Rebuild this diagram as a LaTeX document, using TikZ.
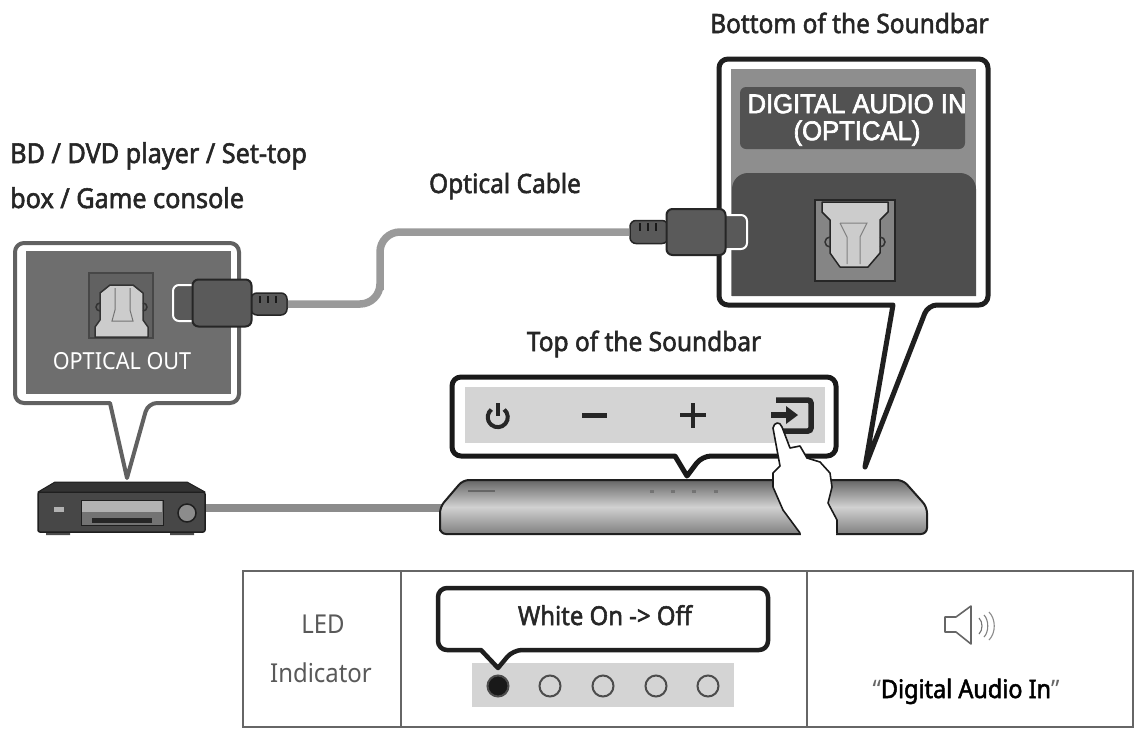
\documentclass[tikz,border=0pt]{standalone}
\usepackage{fontspec}
\setmainfont{Noto Sans}
\newfontfamily\lab[FakeBold=2,FakeStretch=0.92]{Noto Sans}
\newfontfamily\lite[FakeStretch=0.92]{Noto Sans}
\newfontfamily\arl[FakeBold=2.5,FakeStretch=0.95]{Liberation Sans}
\usetikzlibrary{calc}
\definecolor{capt}{HTML}{262626}
\definecolor{panelA}{HTML}{6E6E6E}
\definecolor{panelB}{HTML}{8E8E8E}
\definecolor{panelC}{HTML}{4E4E4E}
\definecolor{plugc}{HTML}{5A5A5A}
\definecolor{cable}{HTML}{9A9A9A}
\definecolor{lightp}{HTML}{D4D4D4}
\tikzset{
 caption/.style={font=\lab\fontsize{26.6}{26.6}\selectfont,text=capt,inner sep=0pt,anchor=base west},
 capc/.style={caption,anchor=base},
 thin text/.style={font=\lite\fontsize{26}{26}\selectfont,text=black!65,inner sep=0pt,anchor=base},
 cableline/.style={draw=cable,line width=7.5pt},
 callout/.style={fill=white,line width=5pt,line join=round,rounded corners=9pt},
 plugbody/.style={draw=black!85,line width=2pt,fill=plugc,rounded corners=6pt,inner sep=0pt,minimum width=#1},
 plugneck/.style={draw=white,line width=2pt,fill=black!65,rounded corners=6pt,inner sep=0pt},
 relief/.style={draw=black!85,line width=1.5pt,fill=black!65,rounded corners=6pt,inner sep=0pt},
 icon/.style={line width=4pt,draw=black!85},
 led/.style={circle,draw=black!70,line width=2pt,fill=lightp,minimum size=21pt,inner sep=0pt},
}
\begin{document}
\begin{tikzpicture}[x=1pt,y=-1pt]
\useasboundingbox (0,0) rectangle (1140,729);
\fill[white] (0,0) rectangle (1140,729);

% captions
\node[caption] (capBottom) at (710,33) {Bottom of the Soundbar};
\node[caption,font=\lab\fontsize{27.4}{27.4}\selectfont] (capBD) at (10,163) {BD / DVD player / Set-top};
\node[caption,font=\lab\fontsize{27.4}{27.4}\selectfont] (capBox) at (10,208) {box / Game console};
\node[capc] (capOpt) at (505,193) {Optical Cable};
\node[capc] (capTop) at (644,351) {Top of the Soundbar};

% left callout
\draw[callout,draw=black!62,line width=4pt] (15,243) -- (239,243) -- (239,403) -- (148,403) [sharp corners] -- (127,478) -- (110,403) [rounded corners=9pt] -- (15,403) -- cycle;
\fill[panelA] (26,251) rectangle (231,394);
\draw[fill=black!62,draw=black!72,line width=1.5pt] (89,273) rectangle (153,338);
\draw[fill=black!20,draw=black!80,line width=1.5pt,line join=round] (95,337) -- (95,327) -- (100,320) -- (100,293) -- (110,285) -- (133,285) -- (143,293) -- (143,320) -- (148,327) -- (148,337) -- cycle;
\draw[black!55,line width=1pt] (115,288) -- (115,310) -- (112,321) -- (133,321) -- (130,310) -- (130,288);
\draw[black!80,line width=1.5pt] (100,303) arc[start angle=-90,end angle=-270,radius=4];
\draw[black!80,line width=1.5pt] (143,303) arc[start angle=-90,end angle=90,radius=4];
\node[inner sep=0pt,anchor=base,text=white,font=\lite\fontsize{23.5}{23.5}\selectfont] (optOut) at (122,369) {OPTICAL OUT};

% right callout
\draw[callout,draw=black!88] (719,59) -- (988,59) -- (988,305) -- (928,305) [sharp corners] -- (865,467) -- (893,305) [rounded corners=9pt] -- (719,305) -- cycle;
\fill[panelB] (731,69) rectangle (976,296);
\node[fill=black!68,rounded corners=6pt,minimum width=225pt,minimum height=62pt,inner sep=0pt] (dai) at (852.5,118) {};
\node[inner sep=0pt,align=center,text=white,font=\arl\fontsize{27}{27}\selectfont] (daiText) at (857,120) {DIGITAL AUDIO IN\\(OPTICAL)};
\fill[panelC,rounded corners=16pt] (732,296) -- (732,173) -- (976,173) [sharp corners] -- (976,296) -- cycle;
\draw[fill=black!48,draw=black!85,line width=1.5pt] (815,200) rectangle (895,281);
\draw[fill=black!20,draw=black!85,line width=1.5pt,line join=round] (822,202) -- (888,202) -- (888,212) -- (880,220) -- (880,253) -- (868,267) -- (840,267) -- (830,253) -- (830,220) -- (822,212) -- cycle;
\draw[black!50,line width=1pt] (840,223) -- (867,223) -- (860,237) -- (860,264) (840,223) -- (847,237) -- (847,264);
\draw[black!80,line width=1.5pt] (830,237) arc[start angle=-90,end angle=-270,radius=5];
\draw[black!80,line width=1.5pt] (880,237) arc[start angle=-90,end angle=90,radius=5];

% cable between plugs
\node[relief,minimum width=36pt,minimum height=22pt] (reliefL) at (269,304) {};
\node[relief,minimum width=38pt,minimum height=23pt] (reliefR) at (649,232) {};
\coordinate (cablebend) at (380,270);
\draw[cableline,rounded corners=20pt] (reliefL.east) -| (cablebend) |- (reliefR.west);
\foreach \x in {260,268,276}{\draw[black!90,line width=1.5pt] (\x,296) -- (\x,303);}
\foreach \x in {640,648,656}{\draw[black!90,line width=1.5pt] (\x,223) -- (\x,231);}

% plugs
\node[plugneck,minimum width=30pt,minimum height=36pt] (neckL) at (188,303) {};
\node[plugbody=59pt,minimum height=47pt] (bodyL) at (222,303) {};
\node[plugneck,minimum width=30pt,minimum height=34pt] (neckR) at (732,232) {};
\node[plugbody=59pt,minimum height=46pt] (bodyR) at (696,232) {};

% top callout
\draw[callout,draw=black!90] (452,377) -- (836,377) -- (836,456) -- (702,456) [sharp corners] -- (687,476) -- (675,456) [rounded corners=9pt] -- (452,456) -- cycle;
\fill[lightp] (465,387) rectangle (825,443);
\draw[icon] (504.2,409.5) arc[start angle=-50,end angle=230,radius=10];
\draw[icon] (497.5,403) -- (497.5,416);
\draw[icon,line width=5pt] (582,415) -- (607,415);
\draw[icon] (680,415) -- (706,415) (693,403) -- (693,428);
\draw[icon,line width=5.5pt,rounded corners=3pt] (776,400) -- (811,400) -- (811,431) -- (776,431);
\draw[icon,line width=6pt] (771,415) -- (788,415);
\fill[black!85] (786,406) -- (798,415) -- (786,424) -- cycle;

% player
\coordinate (barL) at (445,508);
\fill[black!70] (46,530) rectangle (70,535) (170,530) rectangle (194,535);
\node[fill=black!72,draw=black!88,line width=1.5pt,rounded corners=2pt,minimum width=167pt,minimum height=40pt,inner sep=0pt] (player) at (121.5,512) {};
\draw[cableline,line width=8pt,draw=black!45] (barL -| player.east) -- (barL);
\draw[fill=black!80,draw=black!88,line width=1pt,line join=round] (38,492) -- (55,482) -- (187,482) -- (205,492) -- cycle;
\draw[draw=black!88,fill=black!55,line width=1pt] (81,500) rectangle (163,525);
\fill[black!30] (82,501) rectangle (162,512);
\fill[black!85] (92,518) rectangle (152,523);
\fill[black!30] (54,507) rectangle (64,512);
\draw[draw=black!88,fill=black!45,line width=1.5pt] (187,513) circle (9);

% soundbar
\draw[draw=black!88,line width=2pt,top color=black!60,bottom color=black!50,middle color=black!18,rounded corners=6pt] (440,525) -- (440,507) -- (463,480) -- (903,480) -- (927,507) -- (927,534) -- (440,534) -- cycle;
\fill[black!60] (468,490) rectangle (495,492);
\foreach \x in {652,673,694,716}{\fill[black!55] (\x-2,490) rectangle (\x+2,492.5);}

% hand
\draw[fill=white,draw=black!90,line width=1.6pt,line join=round] (800,533) -- (783,510) -- (773,487) -- (773,473) -- (780,466) -- (773,428) .. controls (774,422) and (780,421) .. (782,427) -- (790,448) -- (800,446) -- (807,458) -- (820,462) -- (830,473) -- (832,487) -- (828,503) -- (837,520) -- (837,533);
\fill[white] (801,530) rectangle (836,536);

% table
\draw[black!60,line width=1.6pt] (243,571) rectangle (1133,727);
\draw[black!60,line width=1.6pt] (401,571) -- (401,727) (807,571) -- (807,727);
\node[thin text] (ledA) at (323,633) {LED};
\node[thin text] (ledB) at (321,682) {Indicator};
\fill[lightp] (472,663) rectangle (734,707);
\draw[callout,draw=black!88,line width=4.5pt] (438,588) -- (768,588) -- (768,650) -- (513,650) [sharp corners] -- (498,668) -- (481,650) [rounded corners=9pt] -- (438,650) -- cycle;
\node[capc,font=\lab\fontsize{26}{26}\selectfont] (white) at (605,625) {White On -> Off};
\node[led,fill=black!90] (led1) at (498,686) {};
\node[led] (led2) at (550,686) {};
\node[led] (led3) at (603,686) {};
\node[led] (led4) at (656,686) {};
\node[led] (led5) at (708,686) {};
\draw[black!60,line width=1.6pt,line join=round] (945,617) -- (956,617) -- (971,606) -- (971,644) -- (956,632) -- (945,632) -- cycle;
\draw[black!55,line width=1.1pt] (979,618) .. controls (983,622) and (983,630) .. (979,634);
\draw[black!50,line width=1.1pt] (984,615) .. controls (989,620) and (989,632) .. (984,637);
\draw[black!45,line width=1.1pt] (989,612) .. controls (996,619) and (996,633) .. (989,640);
\node[capc,text=black,font=\lab\fontsize{25.5}{25.5}\selectfont] (dain) at (966,698) {{\lite\color{black!60}“}Digital Audio In{\lite\color{black!60}”}};
\end{tikzpicture}
\end{document}
